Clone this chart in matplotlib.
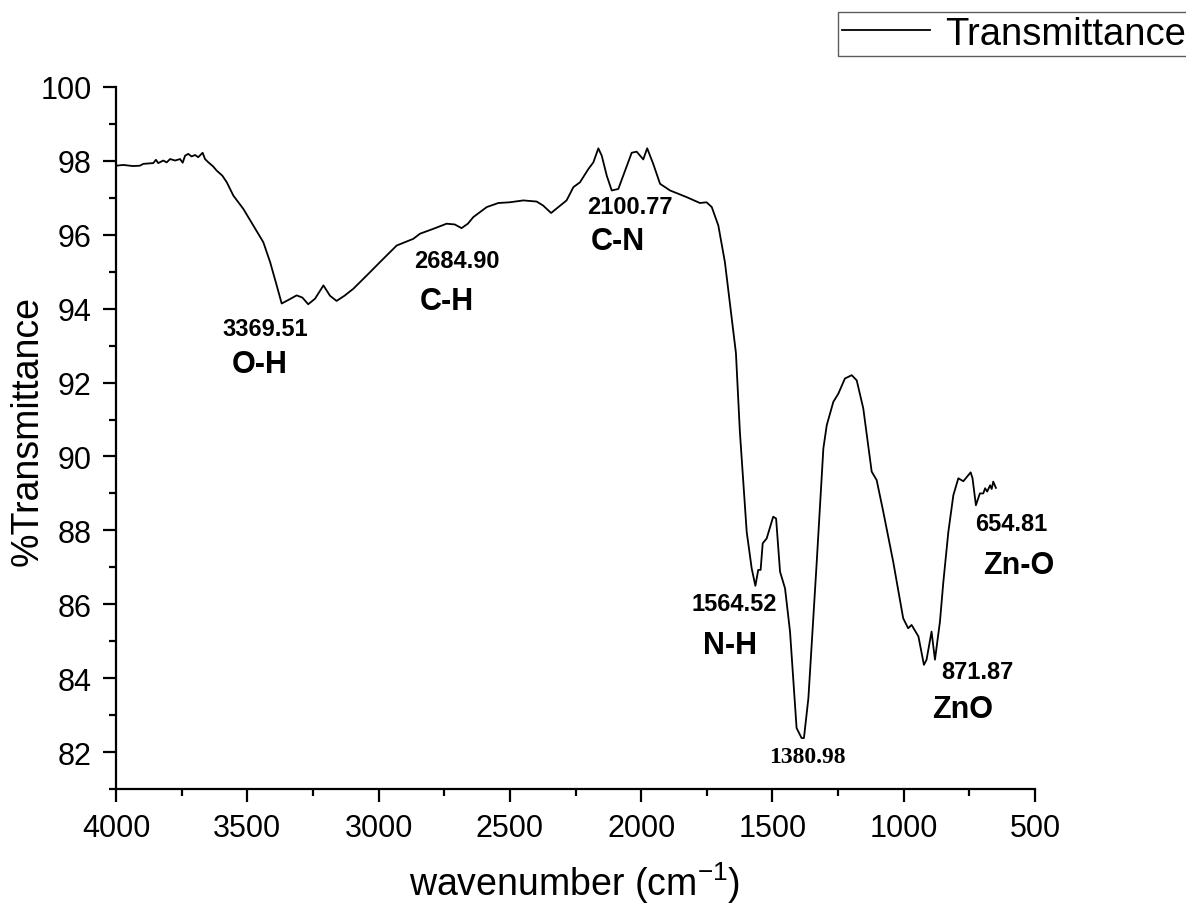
from matplotlib import pyplot as plt
from matplotlib.ticker import MultipleLocator

plt.rcParams['font.family'] = ['Liberation Sans', 'DejaVu Sans']
plt.rcParams['mathtext.fontset'] = 'custom'
plt.rcParams['mathtext.rm'] = 'Liberation Sans'

# FTIR spectrum
wavenumber = [
    4000, 3972, 3935, 3909, 3896, 3858, 3848, 3839, 3820, 3807, 3794, 3775,
    3756, 3746, 3737, 3725, 3712, 3699, 3687, 3670, 3661, 3648, 3630, 3617,
    3595, 3578, 3553, 3515, 3477, 3439, 3413, 3388, 3369, 3340, 3312, 3290,
    3268, 3242, 3210, 3185, 3160, 3130, 3096, 3045, 2982, 2931, 2900, 2868,
    2842, 2792, 2741, 2710, 2684, 2660, 2639, 2588, 2544, 2500, 2449, 2398,
    2373, 2343, 2315, 2284, 2258, 2233, 2201, 2182, 2163, 2150, 2131, 2112,
    2087, 2061, 2036, 2017, 1992, 1977, 1954, 1928, 1890, 1827, 1776, 1751,
    1731, 1706, 1681, 1664, 1655, 1639, 1624, 1598, 1579, 1565, 1554, 1545,
    1537, 1522, 1497, 1486, 1471, 1452, 1433, 1408, 1389, 1380, 1363, 1332,
    1306, 1293, 1268, 1249, 1224, 1198, 1179, 1154, 1122, 1103, 1078, 1040,
    1002, 983, 970, 944, 923, 913, 894, 881, 862, 849, 830, 811,
    792, 773, 745, 738, 725, 710, 697, 690, 682, 671, 665, 659, 649,
]
transmittance = [
    97.87, 97.89, 97.86, 97.87, 97.92, 97.94, 98.03, 97.94, 98.01, 97.96, 98.05, 98.01,
    98.05, 97.95, 98.14, 98.19, 98.12, 98.16, 98.10, 98.22, 98.05, 97.96, 97.85, 97.74,
    97.60, 97.42, 97.06, 96.70, 96.25, 95.80, 95.26, 94.63, 94.14, 94.25, 94.36, 94.30,
    94.12, 94.27, 94.63, 94.35, 94.21, 94.35, 94.54, 94.90, 95.35, 95.71, 95.80, 95.89,
    96.03, 96.16, 96.30, 96.28, 96.18, 96.30, 96.48, 96.75, 96.86, 96.88, 96.93, 96.90,
    96.79, 96.59, 96.75, 96.93, 97.29, 97.42, 97.78, 97.96, 98.34, 98.14, 97.60, 97.20,
    97.24, 97.74, 98.22, 98.25, 98.04, 98.34, 97.92, 97.38, 97.20, 97.02, 96.86, 96.88,
    96.75, 96.25, 95.26, 94.27, 93.75, 92.80, 90.67, 87.96, 86.97, 86.50, 86.93, 86.93,
    87.65, 87.78, 88.37, 88.32, 86.88, 86.43, 85.26, 82.65, 82.38, 82.38, 83.46, 87.06,
    90.22, 90.85, 91.48, 91.70, 92.11, 92.20, 92.06, 91.30, 89.59, 89.36, 88.51, 87.15,
    85.62, 85.35, 85.44, 85.13, 84.36, 84.50, 85.26, 84.50, 85.53, 86.61, 87.96, 88.95,
    89.41, 89.33, 89.57, 89.41, 88.68, 89.00, 89.00, 89.14, 89.05, 89.22, 89.12, 89.32, 89.15,
]

peak_labels = ['3369.51', '2684.90', '2100.77', '1564.52', '1380.98', '871.87', '654.81']
bond_labels = ['O-H', 'C-H', 'C-N', 'N-H', 'ZnO', 'Zn-O']

W, H = 1186, 904
fig = plt.figure(figsize=(W / 100, H / 100), dpi=100)
ax = fig.add_axes([116 / W, 114 / H, 919 / W, 702 / H])

ax.plot(wavenumber, transmittance, color='black', lw=1.3, label='Transmittance')

ax.set_xlim(4000, 500)
ax.set_ylim(81, 100)
ax.xaxis.set_major_locator(MultipleLocator(500))
ax.xaxis.set_minor_locator(MultipleLocator(250))
ax.yaxis.set_major_locator(MultipleLocator(2))
ax.yaxis.set_minor_locator(MultipleLocator(1))
ax.spines['top'].set_visible(False)
ax.spines['right'].set_visible(False)
for s in ('left', 'bottom'):
    ax.spines[s].set_linewidth(1.6)
ax.tick_params(which='major', direction='out', length=9.5, width=1.6, labelsize=22, pad=8)
ax.tick_params(which='minor', direction='out', length=5, width=1.6)

# axis titles placed by hand, the x one sits right on the bottom edge
fig.text(575 / W, 1 - 896 / H, 'wavenumber (cm$^{-1}$)', fontsize=27, ha='center', va='baseline')
fig.text(28 / W, 1 - 431 / H, '%Transmittance', fontsize=27, rotation=90, ha='center', va='center')

# peak positions (number) and bond names, placed where the picture has them
num_pos = [(3432, 93.46), (2701, 95.30), (2043, 96.76), (1646, 86.03), (1368, 81.89), (721, 84.19), (591, 88.19)]
bond_pos = [(3451, 92.49), (2740, 94.22), (2088, 95.84), (1662, 84.89), (774, 83.16), (561, 87.05)]

for lab, (x, y) in zip(peak_labels, num_pos):
    fam = ['Liberation Serif'] if lab == '1380.98' else ['Liberation Sans']
    ax.text(x, y, lab, fontsize=17, fontweight='bold', family=fam, ha='center', va='center')
for lab, (x, y) in zip(bond_labels, bond_pos):
    ax.text(x, y, lab, fontsize=22, fontweight='bold', ha='center', va='center')

leg = fig.legend(loc='upper left', bbox_to_anchor=(838 / W, 1 - 13 / H), fontsize=27.5,
                 frameon=True, fancybox=False, borderpad=0.1, borderaxespad=0,
                 handlelength=2.3, handletextpad=0.4)
leg.get_frame().set_edgecolor('#333333')
leg.get_frame().set_linewidth(1.0)

fig.savefig('out.png', dpi=100)
